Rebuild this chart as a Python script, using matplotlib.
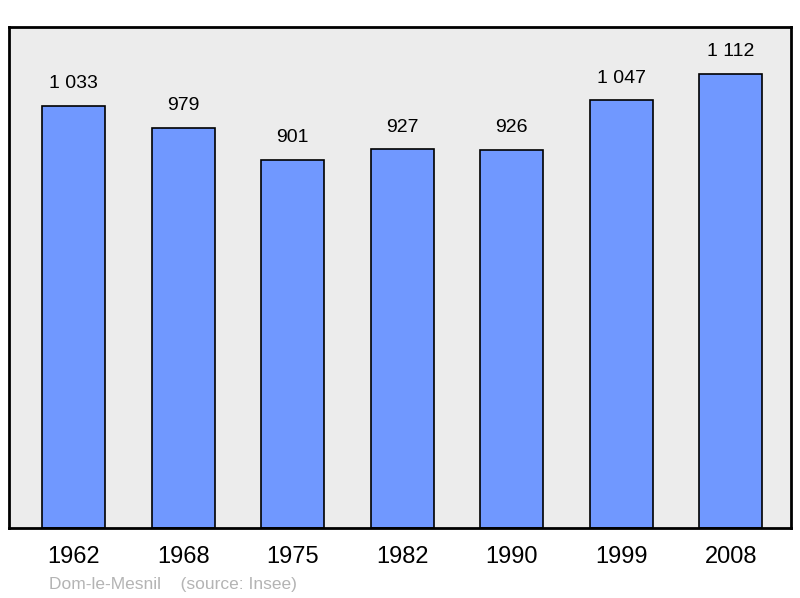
import matplotlib.pyplot as plt

plt.rcParams['font.family'] = ['Liberation Sans', 'DejaVu Sans']

years = ['1962', '1968', '1975', '1982', '1990', '1999', '2008']
population = [1033, 979, 901, 927, 926, 1047, 1112]
labels = ['1 033', '979', '901', '927', '926', '1 047', '1 112']

fig = plt.figure(figsize=(8, 5.98), dpi=100)
ax = fig.add_axes([9/800, 1 - 528/598, 782/800, 501/598])
ax.set_facecolor('#ececec')

x = range(len(years))
bars = ax.bar(x, population, width=0.575, color='#7098ff', edgecolor='black', linewidth=1.2, zorder=2)
for i, b in enumerate(bars):
    ax.annotate(labels[i], (b.get_x() + b.get_width()/2, b.get_height()),
                xytext=(0, 10), textcoords='offset points', ha='center', va='bottom', fontsize=14)

ax.set_xlim(-0.59, 6.55)
ax.set_ylim(0, 1227)
ax.set_xticks(list(x))
ax.set_xticklabels(years, fontsize=17)
ax.tick_params(axis='x', length=0, pad=13)
ax.set_yticks([])
for s in ax.spines.values():
    s.set_linewidth(2)

fig.text(49/800, 1 - 584/598, 'Dom-le-Mesnil    (source: Insee)', color='#b4b4b4', fontsize=12.5, va='center')

fig.savefig('out.png', dpi=100)
